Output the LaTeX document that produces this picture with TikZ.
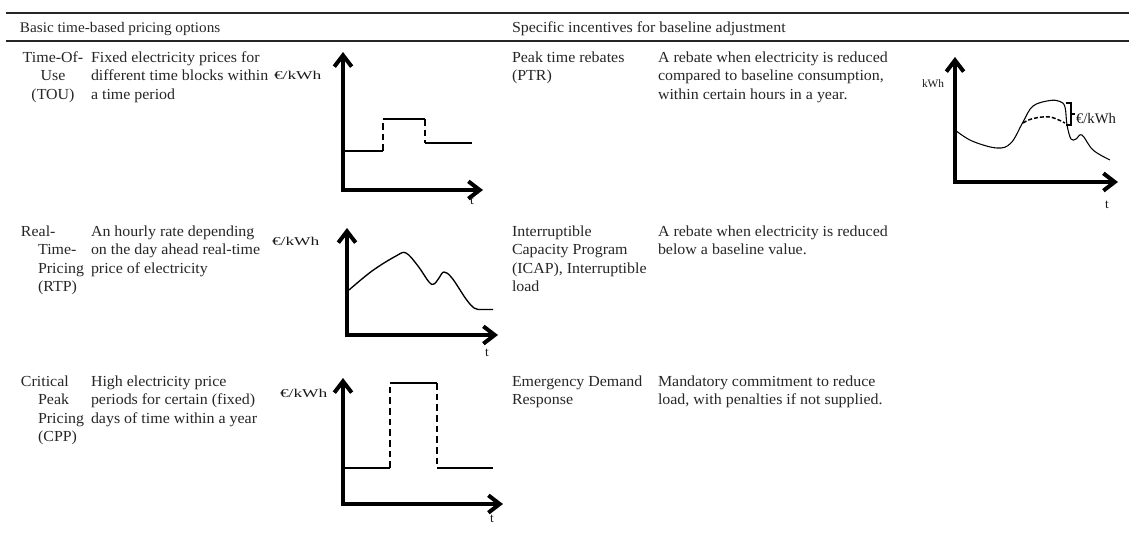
\documentclass[tikz,border=0pt]{standalone}
\usepackage{fontspec}
\setmainfont{Liberation Serif}
\newfontfamily\bodyfont[FakeStretch=1.04]{Liberation Serif}
\usetikzlibrary{arrows.meta}
\begin{document}
\begin{tikzpicture}[x=0.75pt,y=-0.75pt,
  txt/.style={anchor=base west, inner sep=0pt, outer sep=0pt, text=black!85,
    font=\bodyfont\fontsize{11.5}{13.9}\selectfont},
  lab/.style={inner sep=0pt, outer sep=0pt, text=black!90},
  rule/.style={line width=1.5pt, black!85},
  axis/.style={line width=3pt, line join=miter,
    {Straight Barb[length=8.5pt,width=13pt]}-{Straight Barb[length=8.5pt,width=13pt]}},
  level/.style={line width=1.5pt},
  jump/.style={line width=1.5pt, dash pattern=on 5pt off 3pt},
  curve/.style={line width=1pt},
]
\useasboundingbox (0,0) rectangle (1129,536);

% table rules and headings
\coordinate (rTl) at (6,13);  \coordinate (rTr) at (1129,13);
\coordinate (rMl) at (6,41);  \coordinate (rMr) at (1129,41);
\draw[rule] (rTl) -- (rTr);
\draw[rule] (rMl) -- (rMr);
\node[txt, font=\bodyfont\fontsize{11}{13.9}\selectfont] (h1) at (20,32) {Basic time-based pricing options};
\node[txt] (h2) at (512,32) {Specific incentives for baseline adjustment};

% left half: time-based pricing
\node[txt, anchor=base] (tou) at (53,62)
  {\begin{tabular}[t]{@{}c@{}}Time-Of-\\Use\\(TOU)\end{tabular}};
\node[txt] (toud) at (91,62)
  {\begin{tabular}[t]{@{}l@{}}Fixed electricity prices for\\different time blocks within\\a time period\end{tabular}};
\node[txt] (rtp) at (21,236)
  {\begin{tabular}[t]{@{}l@{}}Real-\\\hspace*{12.8pt}Time-\\\hspace*{12.8pt}Pricing\\\hspace*{12.8pt}(RTP)\end{tabular}};
\node[txt] (rtpd) at (91,236)
  {\begin{tabular}[t]{@{}l@{}}An hourly rate depending\\on the day ahead real-time\\price of electricity\end{tabular}};
\node[txt] (cpp) at (21,386)
  {\begin{tabular}[t]{@{}l@{}}Critical\\\hspace*{12.8pt}Peak\\\hspace*{12.8pt}Pricing\\\hspace*{12.8pt}(CPP)\end{tabular}};
\node[txt] (cppd) at (91,386)
  {\begin{tabular}[t]{@{}l@{}}High electricity price\\periods for certain (fixed)\\days of time within a year\end{tabular}};

% right half: baseline incentives
\node[txt] (ptr) at (512,62)
  {\begin{tabular}[t]{@{}l@{}}Peak time rebates\\(PTR)\end{tabular}};
\node[txt] (ptrd) at (658,62)
  {\begin{tabular}[t]{@{}l@{}}A rebate when electricity is reduced\\compared to baseline consumption,\\within certain hours in a year.\end{tabular}};
\node[txt] (icap) at (512,236)
  {\begin{tabular}[t]{@{}l@{}}Interruptible\\Capacity Program\\(ICAP), Interruptible\\load\end{tabular}};
\node[txt] (icapd) at (658,236)
  {\begin{tabular}[t]{@{}l@{}}A rebate when electricity is reduced\\below a baseline value.\end{tabular}};
\node[txt] (edr) at (512,386)
  {\begin{tabular}[t]{@{}l@{}}Emergency Demand\\Response\end{tabular}};
\node[txt] (edrd) at (658,386)
  {\begin{tabular}[t]{@{}l@{}}Mandatory commitment to reduce\\load, with penalties if not supplied.\end{tabular}};

% chart: time-of-use
\node[lab, anchor=base west] (e1) at (274,79) {\scalebox{1.45}[1]{\fontsize{9}{9}\selectfont €/kWh}};
\coordinate (a1y) at (343,52); \coordinate (a1o) at (343,190); \coordinate (a1x) at (483,190);
\draw[axis] (a1y) -- (a1o) -- (a1x);
\node[lab, anchor=base, font=\fontsize{10}{10}\selectfont] (t1) at (472,204) {t};
\coordinate (s1a) at (345,151); \coordinate (s1b) at (383,151);
\coordinate (s1c) at (383,119); \coordinate (s1d) at (425,119);
\coordinate (s1e) at (425,143); \coordinate (s1f) at (472,143);
\draw[level] (s1a) -- (s1b);
\draw[jump] (s1b) -- (s1c);
\draw[level] (s1c) -- (s1d);
\draw[jump] (s1d) -- (s1e);
\draw[level] (s1e) -- (s1f);

% chart: real-time pricing
\node[lab, anchor=base west] (e2) at (272,245) {\scalebox{1.45}[1]{\fontsize{9}{9}\selectfont €/kWh}};
\coordinate (a2y) at (347,228); \coordinate (a2o) at (347,335); \coordinate (a2x) at (498,335);
\draw[axis] (a2y) -- (a2o) -- (a2x);
\node[lab, anchor=base, font=\fontsize{10}{10}\selectfont] (t2) at (487,356) {t};
\draw[curve] plot[smooth, tension=0.6] coordinates
  {(349,290) (372,271) (396,256) (406,253) (418,266) (429,282) (434,284) (439,278) (444,272) (452,278) (466,299) (474,308) (480,309.5)}
  -- (493,309.5);

% chart: critical peak pricing
\node[lab, anchor=base west] (e3) at (280,397) {\scalebox{1.45}[1]{\fontsize{9}{9}\selectfont €/kWh}};
\coordinate (a3y) at (343,378); \coordinate (a3o) at (343,504); \coordinate (a3x) at (503,504);
\draw[axis] (a3y) -- (a3o) -- (a3x);
\node[lab, anchor=base, font=\fontsize{10}{10}\selectfont] (t3) at (492,522) {t};
\coordinate (s3a) at (345,468); \coordinate (s3b) at (390,468);
\coordinate (s3c) at (390,383); \coordinate (s3d) at (437,383);
\coordinate (s3e) at (437,468); \coordinate (s3f) at (493,468);
\draw[level] (s3a) -- (s3b);
\draw[jump] (s3b) -- (s3c);
\draw[level] (s3c) -- (s3d);
\draw[jump] (s3d) -- (s3e);
\draw[level] (s3e) -- (s3f);

% chart: peak time rebate against baseline consumption
\node[lab, anchor=base west, font=\fontsize{8.5}{8.5}\selectfont] (k4) at (922,87) {kWh};
\coordinate (a4y) at (955,57); \coordinate (a4o) at (955,182); \coordinate (a4x) at (1118,182);
\draw[axis] (a4y) -- (a4o) -- (a4x);
\node[lab, anchor=base, font=\fontsize{10}{10}\selectfont] (t4) at (1107,208) {t};
\draw[curve, line width=0.8pt] plot[smooth, tension=0.6] coordinates
  {(955,130) (972,141) (997,148) (1011,143) (1023,122) (1033,106) (1050,100.5) (1060,101.5) (1065,107) (1067,125) (1071,139) (1076,139) (1082,135) (1093,150) (1110,160)};
\draw[curve, line width=1.1pt, dash pattern=on 3pt off 1.5pt] plot[smooth, tension=0.6] coordinates
  {(1023,123) (1033,118.5) (1050,117) (1065,123)};
\coordinate (b4t) at (1066,103); \coordinate (b4tr) at (1071,103);
\coordinate (b4b) at (1066,125); \coordinate (b4br) at (1071,125);
\coordinate (b4m) at (1071,114); \coordinate (b4mr) at (1075,114);
\draw[line width=1pt] (b4t) -- (b4tr) -- (b4br) -- (b4b);
\draw[line width=1pt] (b4m) -- (b4mr);
\node[lab, anchor=base west, font=\fontsize{11}{11}\selectfont] (e4) at (1076,123) {€/kWh};
\end{tikzpicture}
\end{document}
